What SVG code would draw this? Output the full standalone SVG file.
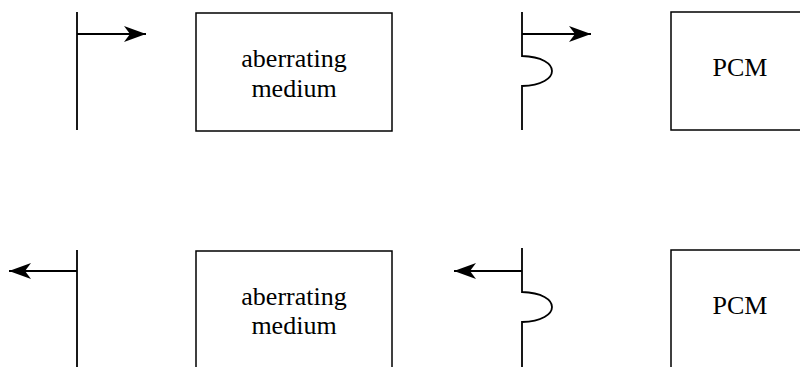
<svg xmlns="http://www.w3.org/2000/svg" width="800" height="367" viewBox="0 0 800 367">
<style>
.ln{stroke:#000;stroke-width:1.8;fill:none}
.bx{stroke:#000;stroke-width:1.5;fill:#fff}
text{font-family:'Liberation Serif','Times New Roman',Times,serif;font-size:26px;fill:#000;text-anchor:middle}
</style>
<defs>
<marker id="ah" viewBox="0 0 24 16" refX="22" refY="8" markerWidth="24" markerHeight="16" markerUnits="userSpaceOnUse" orient="auto">
<path d="M0,0 L22,8 L0,16 L6,8 Z" fill="#000"/>
</marker>
</defs>
<g id="connectors">
<path class="ln" d="M77,34 H146" marker-end="url(#ah)"/>
<path class="ln" d="M522,34 H591" marker-end="url(#ah)"/>
<path class="ln" d="M77,271 H9" marker-end="url(#ah)"/>
<path class="ln" d="M522,271 H454" marker-end="url(#ah)"/>
</g>
<g id="wavefront-top-left"><path class="ln" d="M77,12 V130"/></g>
<g id="medium-top"><rect class="bx" x="196" y="13" width="196" height="118"/><text x="294" y="67" font-family="Liberation Serif, serif">aberrating</text><text x="294" y="97" font-family="Liberation Serif, serif">medium</text></g>
<g id="wavefront-top-right"><path class="ln" d="M522,12 V56 C562,57 562,85 522,86 V130"/></g>
<g id="pcm-top"><rect class="bx" x="671" y="12" width="140" height="118"/><text x="740" y="76" font-family="Liberation Serif, serif">PCM</text></g>
<g id="wavefront-bottom-left"><path class="ln" d="M77,250 V367"/></g>
<g id="medium-bottom"><rect class="bx" x="196" y="251" width="196" height="130"/><text x="294" y="305" font-family="Liberation Serif, serif">aberrating</text><text x="294" y="334" font-family="Liberation Serif, serif">medium</text></g>
<g id="wavefront-bottom-right"><path class="ln" d="M522,248 V292 C562,293 562,321 522,322 V367"/></g>
<g id="pcm-bottom"><rect class="bx" x="671" y="250" width="140" height="130"/><text x="740" y="314" font-family="Liberation Serif, serif">PCM</text></g>
</svg>
